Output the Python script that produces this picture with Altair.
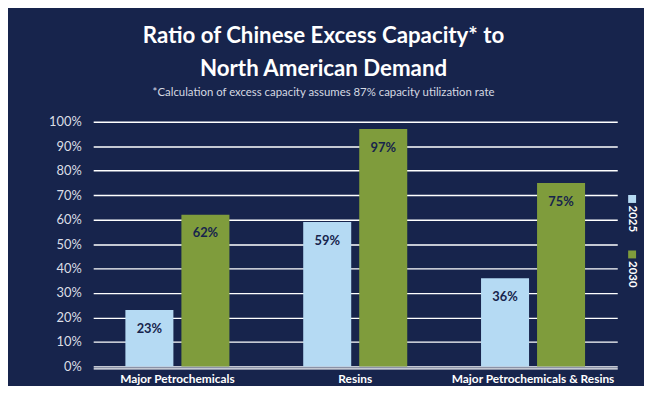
import altair as alt
import pandas as pd

categories = ["Major Petrochemicals", "Resins", "Major Petrochemicals & Resins"]
years = ["2025", "2030"]
values_2025 = [0.23, 0.59, 0.36]
values_2030 = [0.62, 0.97, 0.75]
labels_2025 = ["23%", "59%", "36%"]
labels_2030 = ["62%", "97%", "75%"]
y_ticks = [0.0, 0.1, 0.2, 0.3, 0.4, 0.5, 0.6, 0.7, 0.8, 0.9, 1.0]

rows = []
for i, c in enumerate(categories):
    rows.append({"category": c, "year": years[0], "value": values_2025[i], "label": labels_2025[i]})
    rows.append({"category": c, "year": years[1], "value": values_2030[i], "label": labels_2030[i]})
df = pd.DataFrame(rows)
leg_df = pd.DataFrame({"year": years})

FONT = "Lato"
NAVY = "#17244c"
LIGHT = "#b5daf3"
GREEN = "#7f9c3c"

x = alt.X(
    "category:N", sort=categories,
    scale=alt.Scale(paddingInner=0.415, paddingOuter=0.181),
    axis=alt.Axis(title=None, labelAngle=0, labelFont=FONT, labelFontSize=12,
                  labelFontWeight="bold", labelColor="white", domain=True,
                  domainColor="white", domainWidth=1.5, ticks=False,
                  labelPadding=5, offset=2, labelLimit=300, zindex=1),
)
xo = alt.XOffset("year:N", sort=years, scale=alt.Scale(paddingInner=0.143, paddingOuter=0))
y = alt.Y(
    "value:Q", scale=alt.Scale(domain=[0, 1], nice=False),
    axis=alt.Axis(title=None, values=y_ticks, format=".0%", labelFont=FONT,
                  labelFontSize=13, labelColor="#dcdfe6", domain=False, ticks=False,
                  labelPadding=12, grid=True, gridColor="white", gridWidth=1.4),
)
color = alt.Color("year:N", scale=alt.Scale(domain=years, range=[LIGHT, GREEN]), legend=None)

bars = alt.Chart(df).mark_bar().encode(x=x, xOffset=xo, y=y, color=color)
text = alt.Chart(df).mark_text(
    baseline="middle", dy=19, font=FONT, fontSize=13, fontWeight="bold", color=NAVY
).encode(x=x, xOffset=xo, y=y, text="label:N")

leg_x = 544
leg_y_sq = {"2025": 78, "2030": 134}
leg_y_tx = {"2025": 98, "2030": 154}
legend_layers = []
for yr in years:
    base = alt.Chart(leg_df).transform_filter(alt.datum.year == yr)
    legend_layers.append(
        base.mark_square(size=64, opacity=1).encode(
            x=alt.value(leg_x), y=alt.value(leg_y_sq[yr]), color=color)
    )
    legend_layers.append(
        base.mark_text(angle=90, font=FONT, fontSize=11.5, fontWeight="bold",
                       color="white", align="center", baseline="middle").encode(
            x=alt.value(leg_x), y=alt.value(leg_y_tx[yr]), text="year:N")
    )

chart = alt.layer(bars, text, *legend_layers).properties(
    width=529, height=247,
    padding={"left": 40, "top": 16, "right": 6, "bottom": 0},
    title=alt.Title(
        ["Ratio of Chinese Excess Capacity* to", "North American Demand"],
        subtitle="*Calculation of excess capacity assumes 87% capacity utilization rate",
        font=FONT, fontSize=22.5, fontWeight="bold", color="white", lineHeight=33,
        subtitleFont=FONT, subtitleFontSize=11.5, subtitleColor="#d5d9e2",
        subtitlePadding=7, anchor="middle", dx=-32, offset=17,
    ),
).configure(background=NAVY).configure_view(stroke=None)

chart.save("out.html", embed_options={"renderer": "svg", "actions": False})
